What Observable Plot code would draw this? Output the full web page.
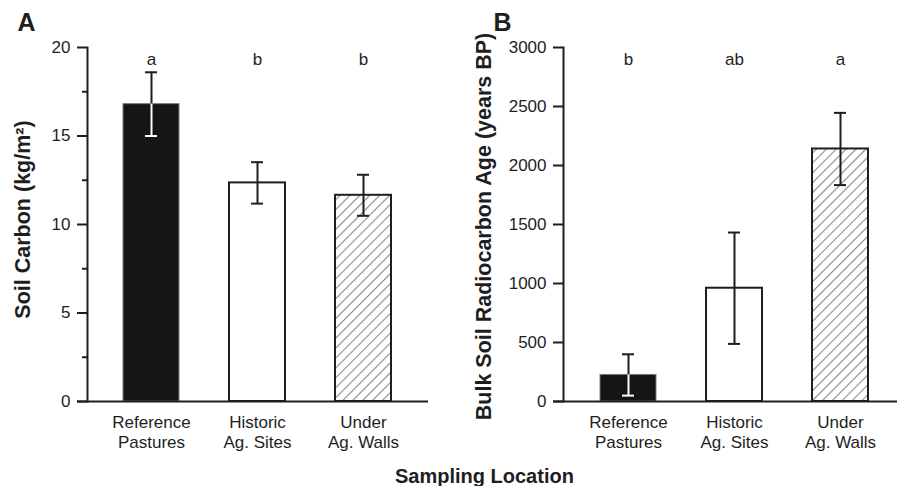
<!DOCTYPE html>
<html>
<head>
<meta charset="utf-8">
<script src="https://cdn.jsdelivr.net/npm/d3@7"></script>
<script src="https://cdn.jsdelivr.net/npm/@observablehq/plot@0.6"></script>
<style>
  html, body { margin: 0; padding: 0; background: #fff; }
  #wrap { position: relative; width: 897px; height: 486px; font-family: "Liberation Sans", Arial, Helvetica, sans-serif; color: #1e1e1e; }
  #wrap svg { position: absolute; top: 0; }
  #title { position: absolute; left: 395px; top: 466px; white-space: nowrap; font-weight: bold; font-size: 20px; line-height: 20px; }
</style>
</head>
<body>
<div id="wrap"></div>
<script>
// ---- data ----
const categories = ["Reference\nPastures", "Historic\nAg. Sites", "Under\nAg. Walls"];
const carbonMean = [16.8, 12.35, 11.65];
const carbonErr = [1.8, 1.17, 1.16];
const carbonLetters = ["a", "b", "b"];
const carbonTicks = [0, 5, 10, 15, 20];
const carbonMinorTicks = [2.5, 7.5, 12.5, 17.5];
const ageMean = [225, 960, 2140];
const ageErr = [175, 472, 306];
const ageLetters = ["b", "ab", "a"];
const ageTicks = [0, 500, 1000, 1500, 2000, 2500, 3000];

const dark = "#1e1e1e";
const font = "'Liberation Sans', Arial, Helvetica, sans-serif";
const barFills = ["#151515", "#ffffff", null]; // third uses hatch pattern
const errLowColors = ["#ffffff", dark, dark];

function makeTable(means, errs, letters) {
  return categories.map((c, i) => ({cat: c, v: means[i], lo: means[i] - errs[i], hi: means[i] + errs[i], letter: letters[i], i}));
}

function panel({table, yDomain, ticks, minor, ylabel, letter, hatchId, width, marginLeft, marginRight, paddingOuter, align, labelDx, labelDy}) {
  const marks = [
    Plot.barY(table.filter(d => d.i === 0), {x: "cat", y: "v", fill: barFills[0], stroke: "#7a7a7a", strokeWidth: 1}),
    Plot.barY(table.filter(d => d.i === 1), {x: "cat", y: "v", fill: barFills[1], stroke: dark, strokeWidth: 2}),
    Plot.barY(table.filter(d => d.i === 2), {x: "cat", y: "v", fill: `url(#${hatchId})`, stroke: dark, strokeWidth: 2}),
    // error bars
    Plot.ruleX(table, {x: "cat", y1: "v", y2: "hi", stroke: dark, strokeWidth: 2}),
    Plot.ruleX(table, {x: "cat", y1: "lo", y2: "v", stroke: d => errLowColors[d.i], strokeWidth: 2}),
    Plot.tickY(table, {x: "cat", y: "hi", stroke: dark, strokeWidth: 2, insetLeft: 22, insetRight: 22}),
    Plot.tickY(table, {x: "cat", y: "lo", stroke: d => errLowColors[d.i], strokeWidth: 2, insetLeft: 22, insetRight: 22}),
    // significance letters
    Plot.text(table, {x: "cat", text: "letter", frameAnchor: "top", dy: 5, fontSize: 17, fill: dark}),
    // axes
    Plot.ruleY([0], {stroke: dark, strokeWidth: 2}),
    Plot.frame({anchor: "left", dx: 10, stroke: dark, strokeWidth: 2}),
    Plot.axisY(ticks, {tickSize: 10, tickPadding: 7, dx: 10, label: null, fontSize: 17, tickFormat: d => String(d), stroke: dark, strokeWidth: 2, fill: dark}),
    Plot.axisX({tickSize: 0, tickPadding: 12, label: null, fontSize: 17, lineHeight: 1.18, fill: dark}),
    Plot.text([ylabel], {frameAnchor: "left", dx: labelDx, dy: labelDy, textAnchor: "middle", lineAnchor: "middle", rotate: -90, fontSize: 21.5, fontWeight: "bold", fill: dark}),
    Plot.text([letter], {frameAnchor: "top-left", dx: -60, dy: -34, textAnchor: "start", lineAnchor: "top", fontSize: 25, fontWeight: "bold", fill: dark})
  ];
  if (minor) marks.push(Plot.axisY(minor, {tickSize: 5, tickFormat: () => "", dx: 10, label: null, stroke: dark, strokeWidth: 2}));
  const svg = Plot.plot({
    width, height: 486,
    marginTop: 47, marginBottom: 85, marginLeft, marginRight,
    x: {domain: categories, paddingInner: 0.467, paddingOuter, align},
    y: {domain: yDomain},
    color: {type: "identity"},
    style: {fontFamily: font, fontSize: "17px", color: dark, background: "transparent", overflow: "visible"},
    marks
  });
  const ns = "http://www.w3.org/2000/svg";
  const defs = document.createElementNS(ns, "defs");
  defs.innerHTML = `<pattern id="${hatchId}" patternUnits="userSpaceOnUse" width="7" height="7" patternTransform="rotate(45)">
      <rect width="7" height="7" fill="#ffffff"/>
      <line x1="0" y1="0" x2="0" y2="7" stroke="#8c8c8c" stroke-width="2.2"/>
    </pattern>`;
  svg.insertBefore(defs, svg.firstChild);
  return svg;
}

const wrap = document.getElementById("wrap");

const svgA = panel({
  table: makeTable(carbonMean, carbonErr, carbonLetters),
  yDomain: [0, 20], ticks: carbonTicks, minor: carbonMinorTicks,
  ylabel: "Soil Carbon (kg/m²)", letter: "A", hatchId: "hatchA",
  width: 450, marginLeft: 77, marginRight: 22, paddingOuter: 0.374, align: 0.5625, labelDx: -54, labelDy: -5
});
svgA.style.left = "0px";
wrap.appendChild(svgA);

const svgB = panel({
  table: makeTable(ageMean, ageErr, ageLetters),
  yDomain: [0, 3000], ticks: ageTicks, minor: null,
  ylabel: "Bulk Soil Radiocarbon Age (years BP)", letter: "B", hatchId: "hatchB",
  width: 447, marginLeft: 103, marginRight: 0, paddingOuter: 0.341, align: 0.623, labelDx: -69, labelDy: 2
});
svgB.style.left = "450px";
wrap.appendChild(svgB);

const title = document.createElement("div");
title.id = "title";
title.textContent = "Sampling Location";
wrap.appendChild(title);
</script>
</body>
</html>
